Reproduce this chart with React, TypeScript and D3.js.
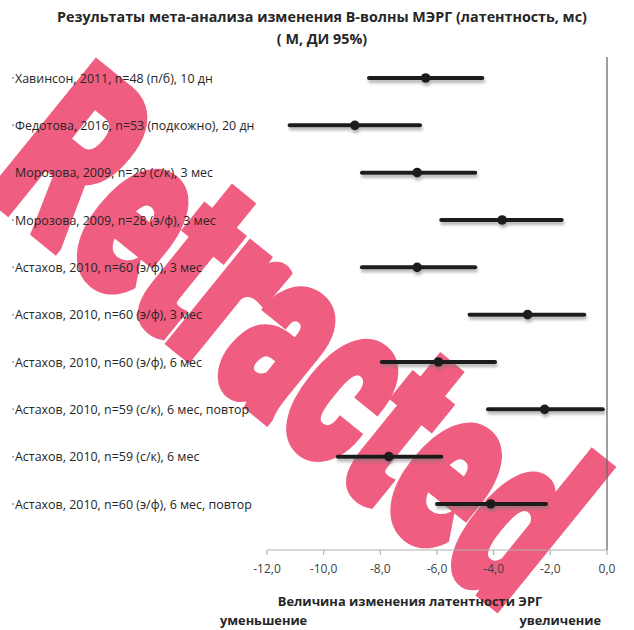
import React from "react";
import * as d3 from "d3";

// Studies (top to bottom), mean change of B-wave latency, ms, and 95% CI bounds
const studies = [
  "Хавинсон, 2011, n=48 (п/б), 10 дн",
  "Федотова, 2016, n=53 (подкожно), 20 дн",
  "Морозова, 2009, n=29 (с/к), 3 мес",
  "Морозова, 2009, n=28 (э/ф), 3 мес",
  "Астахов, 2010, n=60 (э/ф), 3 мес",
  "Астахов, 2010, n=60 (э/ф), 3 мес",
  "Астахов, 2010, n=60 (э/ф), 6 мес",
  "Астахов, 2010, n=59 (с/к), 6 мес, повтор",
  "Астахов, 2010, n=59 (с/к), 6 мес",
  "Астахов, 2010, n=60 (э/ф), 6 мес, повтор",
];
const means = [-6.4, -8.9, -6.7, -3.7, -6.7, -2.8, -5.95, -2.2, -7.7, -4.1];
const lower = [-8.4, -11.2, -8.65, -5.85, -8.65, -4.85, -7.95, -4.2, -9.5, -6.0];
const upper = [-4.4, -6.6, -4.65, -1.6, -4.65, -0.8, -3.95, -0.15, -5.85, -2.15];

const xTicks = [-12, -10, -8, -6, -4, -2, 0];

const titleLines = [
  "Результаты мета-анализа изменения  В-волны МЭРГ (латентность, мс)",
  "( М, ДИ 95%)",
];
const xAxisTitle = "Величина изменения латентности ЭРГ";
const leftNote = "уменьшение";
const rightNote = "увеличение";
const stamp = "Retracted";

const W = 634;
const H = 630;
const font = "'Open Sans', 'Noto Sans', sans-serif";

export default function App() {
  const x = d3.scaleLinear().domain([-12, 0]).range([267, 607]);
  const y = d3
    .scalePoint<number>()
    .domain(d3.range(studies.length))
    .range([78, 504]);
  const axisY = 550;
  const fmt = (v: number) => d3.format(".1f")(v).replace(".", ",").replace("−", "-");

  return (
    <svg
      width={W}
      height={H}
      viewBox={`0 0 ${W} ${H}`}
      style={{ position: "absolute", left: 0, top: 0, background: "#fff" }}
    >
      <defs>
        <filter id="barShadow" x="-10%" y="-200%" width="120%" height="500%">
          <feDropShadow dx="1" dy="3" stdDeviation="1.4" floodColor="#777" floodOpacity="0.55" />
        </filter>
      </defs>

      {/* stamp across the plot */}
      <text
        transform="translate(294,338) rotate(39) scale(0.64,1)"
        textAnchor="middle"
        dominantBaseline="central"
        fontFamily="Roboto, 'DejaVu Sans', sans-serif"
        fontWeight={900}
        fontSize={238}
        fill="#ef5d80"
        stroke="#ef5d80"
        strokeWidth={10}
        strokeLinejoin="miter"
      >
        {stamp}
      </text>

      {/* title */}
      {titleLines.map((t, i) => (
        <text
          key={i}
          x={322}
          y={16 + i * 22}
          textAnchor="middle"
          dominantBaseline="central"
          fontFamily={font}
          fontWeight={700}
          fontSize={14.3}
          fill="#262626"
        >
          {t}
        </text>
      ))}

      {/* zero line */}
      <line x1={x(0)} x2={x(0)} y1={57} y2={axisY} stroke="#6b6b6b" strokeWidth={1.3} />

      {/* x axis */}
      <line x1={x(-12)} x2={x(0)} y1={axisY} y2={axisY} stroke="#b0b0b0" strokeWidth={1.2} />
      {xTicks.map((t) => (
        <g key={t}>
          <line x1={x(t)} x2={x(t)} y1={axisY} y2={axisY + 5} stroke="#b0b0b0" strokeWidth={1.2} />
          <text
            x={x(t)}
            y={axisY + 18}
            textAnchor="middle"
            dominantBaseline="central"
            fontFamily={font}
            fontSize={12}
            fill="#404040"
          >
            {fmt(t)}
          </text>
        </g>
      ))}

      {/* study labels */}
      {studies.map((s, i) => (
        <g key={i}>
          <circle cx={13} cy={y(i)} r={1} fill="#999" />
          <text
            x={15}
            y={y(i)}
            dominantBaseline="central"
            fontFamily={font}
            fontSize={12.45}
            fill="#262626"
          >
            {s}
          </text>
        </g>
      ))}

      {/* confidence intervals and means */}
      {studies.map((_, i) => (
        <g key={i} filter="url(#barShadow)">
          <line
            x1={x(lower[i])}
            x2={x(upper[i])}
            y1={y(i)}
            y2={y(i)}
            stroke="#1c1c1c"
            strokeWidth={4}
            strokeLinecap="round"
          />
          <circle cx={x(means[i])} cy={y(i)} r={4.8} fill="#1c1c1c" />
        </g>
      ))}

      {/* axis captions */}
      <text
        x={410}
        y={601}
        textAnchor="middle"
        dominantBaseline="central"
        fontFamily={font}
        fontWeight={700}
        fontSize={12.9}
        fill="#262626"
      >
        {xAxisTitle}
      </text>
      <text
        x={220}
        y={620}
        dominantBaseline="central"
        fontFamily={font}
        fontWeight={700}
        fontSize={12.8}
        fill="#262626"
      >
        {leftNote}
      </text>
      <text
        x={601}
        y={620}
        textAnchor="end"
        dominantBaseline="central"
        fontFamily={font}
        fontWeight={700}
        fontSize={12.8}
        fill="#262626"
      >
        {rightNote}
      </text>
    </svg>
  );
}
